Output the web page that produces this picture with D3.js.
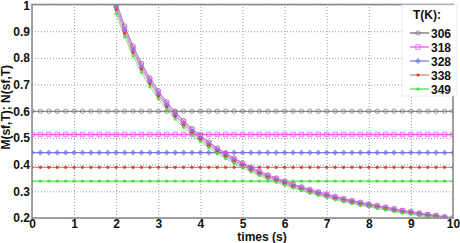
<!DOCTYPE html>
<html>
<head>
<meta charset="utf-8">
<script src="https://cdn.jsdelivr.net/npm/d3@7"></script>
<style>
  html, body { margin: 0; padding: 0; background: #fff; }
  svg { display: block; font-family: "Liberation Sans", Arial, sans-serif; }
</style>
</head>
<body>
<div id="chart"></div>
<script>
// ==== data ====
const temps = ["306", "318", "328", "338", "349"];
const colors = ["#6e6e6e", "#ff4dff", "#6a6ae6", "#e0402a", "#3fe03f"];
const lineColors = ["#6e6e6e", "#ff4dff", "#7a7ae0", "#d88a7a", "#55dd55"];
const markers = ["circle", "square", "diamond", "star", "dot"];

// horizontal levels (M)
const levels = [0.6, 0.513, 0.445, 0.39, 0.338];
const flatTimes = [0, 0.2, 0.4, 0.6, 0.8, 1, 1.2, 1.4, 1.6, 1.8, 2, 2.2, 2.4, 2.6, 2.8, 3, 3.2, 3.4, 3.6, 3.8,
  4, 4.2, 4.4, 4.6, 4.8, 5, 5.2, 5.4, 5.6, 5.8, 6, 6.2, 6.4, 6.6, 6.8, 7, 7.2, 7.4, 7.6, 7.8,
  8, 8.2, 8.4, 8.6, 8.8, 9, 9.2, 9.4, 9.6, 9.8, 10];

// decaying curves (N)
const curveTimes = [1.8, 2, 2.2, 2.4, 2.6, 2.8, 3, 3.2, 3.4, 3.6, 3.8, 4, 4.2, 4.4, 4.6, 4.8, 5, 5.2, 5.4, 5.6, 5.8,
  6, 6.2, 6.4, 6.6, 6.8, 7, 7.2, 7.4, 7.6, 7.8, 8, 8.2, 8.4, 8.6, 8.8, 9, 9.2, 9.4, 9.6, 9.8, 10];
const n306 = [1.12, 1.01, 0.92, 0.845, 0.78, 0.725, 0.677, 0.635, 0.598, 0.565, 0.535, 0.509, 0.485, 0.463, 0.443, 0.424, 0.407, 0.391, 0.376, 0.362, 0.35,
  0.338, 0.327, 0.317, 0.307, 0.298, 0.29, 0.281, 0.273, 0.266, 0.259, 0.253, 0.247, 0.241, 0.235, 0.229, 0.224, 0.219, 0.214, 0.21, 0.205, 0.201];
const n318 = [1.109, 1.0, 0.911, 0.837, 0.772, 0.718, 0.67, 0.629, 0.592, 0.559, 0.53, 0.504, 0.48, 0.458, 0.439, 0.42, 0.403, 0.387, 0.372, 0.358, 0.347,
  0.335, 0.324, 0.314, 0.304, 0.295, 0.287, 0.278, 0.27, 0.263, 0.256, 0.25, 0.245, 0.239, 0.233, 0.227, 0.222, 0.217, 0.212, 0.208, 0.203, 0.199];
const n328 = [1.098, 0.99, 0.902, 0.828, 0.764, 0.711, 0.663, 0.622, 0.586, 0.554, 0.524, 0.499, 0.475, 0.454, 0.434, 0.416, 0.399, 0.383, 0.368, 0.355, 0.343,
  0.331, 0.32, 0.311, 0.301, 0.292, 0.284, 0.275, 0.268, 0.261, 0.254, 0.248, 0.242, 0.236, 0.23, 0.224, 0.22, 0.215, 0.21, 0.206, 0.201, 0.197];
const n338 = [1.086, 0.98, 0.892, 0.82, 0.757, 0.703, 0.657, 0.616, 0.58, 0.548, 0.519, 0.494, 0.47, 0.449, 0.43, 0.411, 0.395, 0.379, 0.365, 0.351, 0.34,
  0.328, 0.317, 0.307, 0.298, 0.289, 0.281, 0.273, 0.265, 0.258, 0.251, 0.245, 0.24, 0.234, 0.228, 0.222, 0.217, 0.212, 0.208, 0.204, 0.199, 0.195];
const n349 = [1.07, 0.965, 0.879, 0.807, 0.745, 0.692, 0.647, 0.606, 0.571, 0.54, 0.511, 0.486, 0.463, 0.442, 0.423, 0.405, 0.389, 0.373, 0.359, 0.346, 0.334,
  0.323, 0.312, 0.303, 0.293, 0.285, 0.277, 0.268, 0.261, 0.254, 0.247, 0.242, 0.236, 0.23, 0.224, 0.219, 0.214, 0.209, 0.204, 0.201, 0.196, 0.192];
const curves = [n306, n318, n328, n338, n349];

const xTicks = [0, 1, 2, 3, 4, 5, 6, 7, 8, 9, 10];
const yTicks = [0.2, 0.3, 0.4, 0.5, 0.6, 0.7, 0.8, 0.9, 1];

// ==== layout ====
const W = 460, H = 243;
const margin = { top: 4.5, right: 7, bottom: 25, left: 32 };
const innerW = W - margin.left - margin.right;
const innerH = H - margin.top - margin.bottom;
const fontSize = 12;

const svgRoot = d3.select("#chart").append("svg")
  .attr("width", W).attr("height", H);

svgRoot.append("defs").append("clipPath").attr("id", "clip")
  .append("rect").attr("width", innerW).attr("height", innerH);

const svg = svgRoot.append("g")
  .attr("transform", `translate(${margin.left},${margin.top})`);

const x = d3.scaleLinear().domain([0, 10]).range([0, innerW]);
const y = d3.scaleLinear().domain([0.2, 1]).range([innerH, 0]);

// grid
svg.append("g")
  .attr("transform", `translate(0,${innerH})`)
  .call(d3.axisBottom(x).tickValues(xTicks).tickSize(-innerH).tickFormat(""))
  .call(g => g.select(".domain").remove())
  .selectAll("line").attr("stroke", "#9a9a9a").attr("stroke-dasharray", "1,2");
svg.append("g")
  .call(d3.axisLeft(y).tickValues(yTicks).tickSize(-innerW).tickFormat(""))
  .call(g => g.select(".domain").remove())
  .selectAll("line").attr("stroke", "#9a9a9a").attr("stroke-dasharray", "1,2");

// marker drawing
function drawMarker(g, type, color, px, py) {
  if (type === "circle") {
    g.append("circle").attr("cx", px).attr("cy", py).attr("r", 2.2)
      .attr("fill", "none").attr("stroke", color).attr("stroke-width", 0.9).attr("opacity", 0.75);
  } else if (type === "square") {
    g.append("rect").attr("x", px - 2.2).attr("y", py - 2.2).attr("width", 4.4).attr("height", 4.4)
      .attr("fill", "none").attr("stroke", color).attr("stroke-width", 0.9).attr("opacity", 0.8);
  } else if (type === "diamond") {
    g.append("path").attr("d", `M${px},${py - 2.6}L${px + 2.2},${py}L${px},${py + 2.6}L${px - 2.2},${py}Z`)
      .attr("fill", color).attr("fill-opacity", 0.5).attr("stroke", color).attr("stroke-width", 0.7);
  } else if (type === "star") {
    g.append("circle").attr("cx", px).attr("cy", py).attr("r", 1.6).attr("fill", color);
  } else {
    g.append("circle").attr("cx", px).attr("cy", py).attr("r", 1.7).attr("fill", color).attr("opacity", 0.85);
  }
}

const plot = svg.append("g").attr("clip-path", "url(#clip)");
const line = d3.line().x(d => x(d[0])).y(d => y(d[1]));

// horizontal series
levels.forEach((lv, i) => {
  const pts = flatTimes.map(t => [t, lv]);
  plot.append("path").attr("d", line(pts)).attr("fill", "none")
    .attr("stroke", lineColors[i]).attr("stroke-width", i === 1 ? 1.6 : 1.2);
  const g = plot.append("g");
  pts.forEach(p => drawMarker(g, markers[i], colors[i], x(p[0]), y(p[1])));
});

// decaying series
curves.forEach((vals, i) => {
  const pts = curveTimes.map((t, k) => [t, vals[k]]);
  plot.append("path").attr("d", line(pts)).attr("fill", "none")
    .attr("stroke", lineColors[i]).attr("stroke-width", 0.9).attr("opacity", 0.85);
});
curves.forEach((vals, i) => {
  const g = plot.append("g");
  curveTimes.forEach((t, k) => drawMarker(g, markers[i], colors[i], x(t), y(vals[k])));
});

// frame
svg.append("rect").attr("width", innerW).attr("height", innerH)
  .attr("fill", "none").attr("stroke", "#8c8c8c").attr("stroke-width", 1.6);

// axes labels
const xAxis = svg.append("g").attr("transform", `translate(0,${innerH})`)
  .call(d3.axisBottom(x).tickValues(xTicks).tickSize(0).tickPadding(1).tickFormat(d3.format("d")));
xAxis.select(".domain").remove();
xAxis.selectAll("text").attr("font-size", fontSize).attr("font-weight", "bold").attr("fill", "#111")
  .attr("font-family", "Liberation Sans, Arial, sans-serif");

const yAxis = svg.append("g")
  .call(d3.axisLeft(y).tickValues(yTicks).tickSize(0).tickPadding(2).tickFormat(d => d === 1 ? "1" : d3.format(".1f")(d)));
yAxis.select(".domain").remove();
yAxis.selectAll("text").attr("font-size", fontSize).attr("font-weight", "bold").attr("fill", "#111")
  .attr("font-family", "Liberation Sans, Arial, sans-serif");
// top label sits against the edge, nudge it down slightly
yAxis.selectAll(".tick").filter(d => d === 1).select("text").attr("dy", "0.45em");

svgRoot.append("text")
  .attr("x", 262).attr("y", 241)
  .attr("text-anchor", "middle")
  .attr("font-size", fontSize).attr("font-weight", "bold").attr("fill", "#111")
  .text("times (s)");

svgRoot.append("text")
  .attr("transform", `translate(10,${margin.top + innerH / 2 - 4}) rotate(-90)`)
  .attr("text-anchor", "middle")
  .attr("font-size", fontSize).attr("font-weight", "bold").attr("fill", "#111")
  .text("M(sf,T); N(sf,T)");

// legend
const legend = svgRoot.append("g").attr("transform", "translate(402,5)");
legend.append("rect").attr("width", 55).attr("height", 91)
  .attr("fill", "#fff").attr("stroke", "#e6e6e6").attr("stroke-width", 0.8);
legend.append("text").attr("x", 11).attr("y", 14)
  .attr("font-size", fontSize).attr("font-weight", "bold").attr("fill", "#111").text("T(K):");
temps.forEach((t, i) => {
  const yy = 28 + i * 14;
  legend.append("line").attr("x1", 8).attr("x2", 27).attr("y1", yy).attr("y2", yy)
    .attr("stroke", lineColors[i]).attr("stroke-width", 1.3);
  drawMarker(legend, markers[i], colors[i], 16, yy);
  legend.append("text").attr("x", 29).attr("y", yy + 4.5)
    .attr("font-size", fontSize).attr("font-weight", "bold").attr("fill", "#111").text(t);
});
</script>
</body>
</html>
